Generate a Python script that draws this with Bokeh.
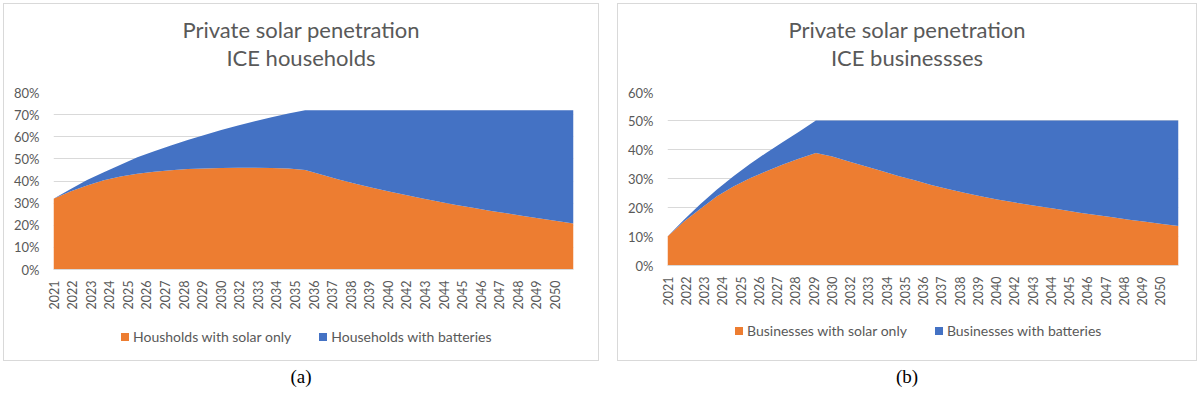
from bokeh.plotting import figure
from bokeh.models import (FixedTicker, CustomJSTickFormatter, PrintfTickFormatter,
                          Range1d, Div, ColumnDataSource)
from bokeh.layouts import row, column
from bokeh.embed import file_html
from bokeh.resources import INLINE
from math import pi

# ---------------- data ----------------
years = list(range(2021, 2053))

tick_labels = ["2021", "2022", "2023", "2024", "2025", "2026", "2027", "2028", "2029", "2030",
               "2032", "2033", "2034", "2035", "2036", "2037", "2038", "2039", "2040",
               "2042", "2043", "2044", "2045", "2046", "2047", "2048", "2049", "2050"]

hh_solar_only = [32.0, 35.2, 38.0, 40.3, 42.0, 43.3, 44.2, 44.9, 45.4, 45.7, 45.9, 46.0, 46.0, 45.9,
                 45.6, 45.0, 42.8, 40.7, 38.8, 37.0, 35.3, 33.7, 32.1, 30.6, 29.2, 27.9, 26.6, 25.4,
                 24.2, 23.0, 21.9, 20.8]
hh_batteries = [0.0, 1.1, 2.5, 3.7, 5.4, 7.4, 9.3, 11.1, 13.1, 15.1, 17.1, 19.1, 21.0, 22.9,
                24.9, 27.0, 29.2, 31.3, 33.2, 35.0, 36.7, 38.3, 39.9, 41.4, 42.8, 44.1, 45.4, 46.6,
                47.8, 49.0, 50.1, 51.2]

bus_solar_only = [10.0, 15.2, 19.6, 23.9, 27.2, 30.1, 32.5, 34.8, 36.9, 38.8, 37.6, 35.9, 34.2, 32.6,
                  30.9, 29.4, 27.8, 26.4, 25.1, 23.9, 22.8, 21.8, 20.9, 20.0, 19.1, 18.2, 17.4, 16.6,
                  15.8, 15.1, 14.3, 13.6]
bus_batteries = [0.0, 0.6, 1.6, 2.3, 3.6, 4.9, 6.4, 7.8, 9.3, 11.2, 12.4, 14.1, 15.8, 17.4,
                 19.1, 20.6, 22.2, 23.6, 24.9, 26.1, 27.2, 28.2, 29.1, 30.0, 30.9, 31.8, 32.6, 33.4,
                 34.2, 34.9, 35.7, 36.4]

hh_titles = ["Private solar penetration", "ICE households"]
bus_titles = ["Private solar penetration", "ICE businessses"]
hh_names = ["Housholds with solar only", "Households with batteries"]
bus_names = ["Businesses with solar only", "Businesses with batteries"]

ORANGE = "#ED7D31"
BLUE = "#4472C4"
TXT = "#595959"
GRID = "#D9D9D9"
FONT = "Lato"


def make_fig(solar, batt, ymax, w, h, bl, br, bt, bb):
    src = ColumnDataSource(dict(x=years, solar=solar, batt=batt))
    p = figure(width=w, height=h, output_backend="svg", toolbar_location=None,
               min_border_left=bl, min_border_right=br, min_border_top=bt, min_border_bottom=bb,
               x_range=Range1d(years[0], years[-1]), y_range=Range1d(0, ymax), margin=0)
    p.varea_stack(["solar", "batt"], x="x", color=[ORANGE, BLUE], source=src)

    # date-like axis: labels evenly spaced over the span
    n = len(tick_labels)
    step = (years[-1] - years[0]) / n
    ticks = [years[0] + k * step for k in range(n)]
    p.xaxis.ticker = FixedTicker(ticks=ticks)
    p.xaxis.formatter = CustomJSTickFormatter(args=dict(labels=tick_labels),
                                              code="return labels[index] ?? ''")
    p.xaxis.major_label_orientation = pi / 2
    p.xaxis.axis_line_color = GRID
    p.xaxis.major_tick_line_color = None
    p.xaxis.minor_tick_line_color = None
    p.xaxis.major_label_standoff = 5
    p.xaxis.major_label_text_font = FONT
    p.xaxis.major_label_text_font_size = "12.5px"
    p.xaxis.major_label_text_color = TXT

    p.yaxis.ticker = FixedTicker(ticks=list(range(0, ymax + 1, 10)))
    p.yaxis.formatter = PrintfTickFormatter(format="%d%%")
    p.yaxis.axis_line_color = None
    p.yaxis.major_tick_line_color = None
    p.yaxis.minor_tick_line_color = None
    p.yaxis.major_label_standoff = 8
    p.yaxis.major_label_text_font = FONT
    p.yaxis.major_label_text_font_size = "13px"
    p.yaxis.major_label_text_color = TXT

    p.xgrid.grid_line_color = None
    p.ygrid.grid_line_color = GRID
    p.ygrid.level = "underlay"
    p.outline_line_color = None
    return p


def title_div(lines, w):
    html = (f"<div style='width:{w}px;text-align:center;font-family:{FONT};font-size:22px;"
            f"color:{TXT};line-height:28px;padding-top:12px'>" + "<br>".join(lines) + "</div>")
    return Div(text=html, width=w, height=80, margin=0)


def legend_div(names, w, h, pad_top, pad_left):
    sq = ("<span style='display:inline-block;width:8px;height:8px;background:{c};"
          "margin-right:4px;vertical-align:1px'></span>")
    html = (f"<div style='width:{w}px;font-family:{FONT};font-size:14px;color:{TXT};"
            f"line-height:16px;white-space:nowrap;padding-top:{pad_top}px;padding-left:{pad_left}px'>"
            + sq.format(c=ORANGE) + names[0]
            + "<span style='display:inline-block;width:28px'></span>"
            + sq.format(c=BLUE) + names[1] + "</div>")
    return Div(text=html, width=w, height=h, margin=0)


def caption(t, w):
    return Div(text=f"<div style='width:{w}px;text-align:center;font-family:\"Liberation Serif\";"
                    f"font-size:19px;color:#000;line-height:18px'>{t}</div>",
               width=w, height=18, margin=(7, 0, 0, 0))


BOX = {"border": "1px solid #D9D9D9"}

p1 = make_fig(hh_solar_only, hh_batteries, 80, 594, 228, 49, 25, 8, 40)
box1 = column(title_div(hh_titles, 594), p1, legend_div(hh_names, 594, 48, 17, 117),
              spacing=0, styles=BOX)

p2 = make_fig(bus_solar_only, bus_batteries, 60, 578, 224, 49, 18, 7, 40)
box2 = column(title_div(bus_titles, 578), p2, legend_div(bus_names, 578, 52, 15, 117),
              spacing=0, styles=BOX)

layout = row(column(box1, caption("(a)", 596), spacing=0),
             column(box2, caption("(b)", 580), spacing=0),
             spacing=18, margin=(3, 0, 0, 3))

open("out.html", "w").write(file_html(layout, INLINE))
